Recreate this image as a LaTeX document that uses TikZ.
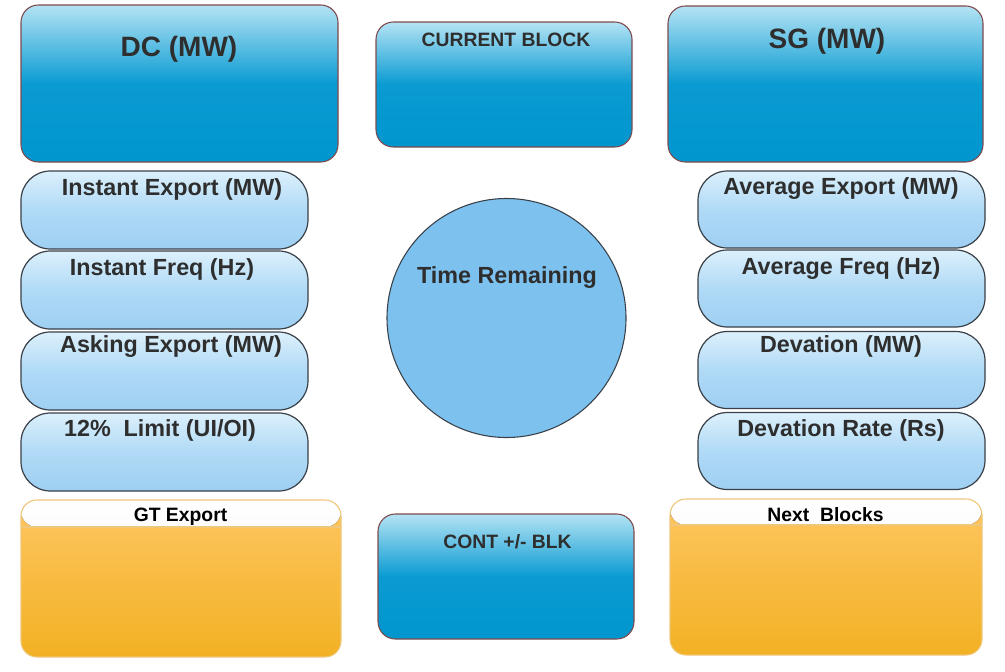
\documentclass[tikz,border=0pt]{standalone}
\usepackage{fontspec}
\setmainfont{Liberation Sans}
\definecolor{bluetop}{HTML}{B4E3F4}
\definecolor{bluemid}{HTML}{0A9BD2}
\definecolor{bluebot}{HTML}{0096CE}
\definecolor{boxedge}{HTML}{7E4A4E}
\definecolor{pilltop}{HTML}{DCF0FC}
\definecolor{pillmid}{HTML}{B0DAF6}
\definecolor{pillbot}{HTML}{9ECFF2}
\definecolor{pilledge}{HTML}{3A4048}
\definecolor{circfill}{HTML}{7DC1EF}
\definecolor{orgtop}{HTML}{FEC660}
\definecolor{orgbot}{HTML}{F2B124}
\definecolor{orgedge}{HTML}{EFC77A}
\definecolor{hdrgray}{HTML}{EFEFF1}
\definecolor{txt}{HTML}{2E2E2E}
\begin{document}
\begin{tikzpicture}[x=0.75pt,y=-0.75pt,
  sz/.style 2 args={minimum width=#1*0.75pt, minimum height=#2*0.75pt},
  bluebox/.style={draw=boxedge, line width=0.8pt, rounded corners=13pt,
    top color=bluetop, bottom color=bluebot, middle color=bluemid, inner sep=0pt},
  pill/.style={draw=pilledge, line width=0.9pt, rounded corners=22pt,
    top color=pilltop, bottom color=pillbot, middle color=pillmid, inner sep=0pt},
  orgbox/.style={draw=orgedge, line width=0.8pt, rounded corners=12pt,
    top color=orgtop, bottom color=orgbot, inner sep=0pt,
    path picture={
      \fill[top color=white, bottom color=hdrgray]
        (path picture bounding box.north west) rectangle
        ([yshift=-#1*0.75pt]path picture bounding box.north east);
      \draw[orgedge, line width=0.8pt]
        ([yshift=-#1*0.75pt]path picture bounding box.north west) --
        ([yshift=-#1*0.75pt]path picture bounding box.north east);}},
  lbl/.style={font=\bfseries, text=txt, anchor=center, inner sep=0pt},
  big/.style={lbl, font=\fontsize{21}{25}\selectfont\bfseries},
  mid/.style={lbl, font=\fontsize{17.5}{21}\selectfont\bfseries},
  small/.style={lbl, font=\fontsize{14.5}{17}\selectfont\bfseries},
  hdr/.style={lbl, text=black, font=\fontsize{14.5}{17}\selectfont\bfseries}
]
\path[use as bounding box, fill=white] (0,0) rectangle (1005,671);

% top row
\node[bluebox, sz={317}{157}] (dc) at (179.5,83.5) {};
\node[big] (dct) at (179,49) {DC (MW)};
\node[bluebox, sz={256}{125}] (cur) at (504,84.5) {};
\node[small] (curt) at (506,40) {CURRENT BLOCK};
\node[bluebox, sz={315}{156}] (sg) at (825.5,84) {};
\node[big] (sgt) at (827,41) {SG (MW)};

% left pills
\node[pill, sz={287}{78}] (l1) at (164.5,210) {};
\node[mid] (l1t) at (172,189) {Instant Export (MW)};
\node[pill, sz={287}{78}] (l2) at (164.5,290) {};
\node[mid] (l2t) at (162,269) {Instant Freq (Hz)};
\node[pill, sz={287}{78}] (l3) at (164.5,371) {};
\node[mid] (l3t) at (171,347) {Asking Export (MW)};
\node[pill, sz={287}{78}] (l4) at (164.5,452) {};
\node[mid] (l4t) at (160,430) {12\%\ \ Limit (UI/OI)};

% right pills
\node[pill, sz={287}{77}] (r1) at (841.5,209.5) {};
\node[mid] (r1t) at (841,189) {Average Export (MW)};
\node[pill, sz={287}{77}] (r2) at (841.5,288.5) {};
\node[mid] (r2t) at (841,269) {Average Freq (Hz)};
\node[pill, sz={287}{77}] (r3) at (841.5,370) {};
\node[mid] (r3t) at (841,346) {Devation (MW)};
\node[pill, sz={287}{77}] (r4) at (841.5,451) {};
\node[mid] (r4t) at (841,430) {Devation Rate (Rs)};

% circle
\node[circle, draw=pilledge, line width=0.8pt, fill=circfill, minimum size=239*0.75pt, inner sep=0pt] (tr) at (506.5,318) {};
\node[mid] (trt) at (507,278) {Time Remaining};

% bottom row
\node[orgbox=27, sz={320}{157}] (gt) at (181,578.5) {};
\node[hdr] (gtt) at (180.5,517) {GT Export};
\node[bluebox, sz={256}{125}] (cont) at (506,576.5) {};
\node[small] (contt) at (507.5,542) {CONT +/- BLK};
\node[orgbox=26, sz={312}{156}] (nb) at (826,577) {};
\node[hdr] (nbt) at (825.5,515) {Next\ \ Blocks};
\end{tikzpicture}
\end{document}
